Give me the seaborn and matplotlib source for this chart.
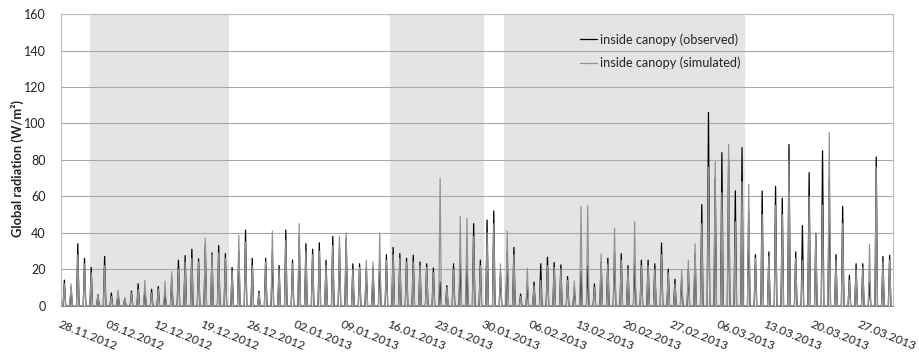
import numpy as np
import pandas as pd
import matplotlib
matplotlib.use("Agg")
import matplotlib.pyplot as plt
import matplotlib.dates as mdates
import seaborn as sns

# ---------------- data ----------------
START_DATE = "2012-11-28"
observed = [14, 10, 34, 26, 21, 6, 27, 7, 7, 4, 8, 12, 9, 9, 10.5, 6, 15, 25, 27.5, 31,
            25.7, 33, 29, 33, 28.6, 21, 30, 41.5, 26, 8, 26, 30, 22, 41.5, 25, 38, 34, 31, 34.5, 25,
            38, 32, 37, 23, 23, 21, 21, 25, 28, 32, 28.6, 26, 27.7, 24, 23, 20.7, 13, 11, 23, 24,
            23, 45, 25, 47, 52, 18, 30, 32, 6.4, 12, 13, 23, 26.6, 23.7, 22.4, 16, 10, 18.7, 22, 12,
            24, 26, 30, 28.5, 22, 25, 25, 25, 23, 34.4, 20, 14.5, 15, 20, 28, 55.5, 106, 70, 84, 80,
            63, 86.7, 52, 28, 63, 29.5, 65.5, 59, 88.5, 29.5, 44, 73, 39.5, 85, 70, 28, 54.5, 16.7, 23, 23,
            13, 81.6, 27, 27.6]
simulated = [12, 12, 28, 23, 18, 6, 22, 5, 8.6, 4.5, 7, 9, 14, 7, 9, 13.5, 18.6, 20, 24, 26,
             24, 37, 28, 29, 26, 19, 38.7, 35, 22, 7, 24, 41, 20, 36, 23, 45, 30, 28, 30, 22,
             33, 38, 40, 20, 21, 25, 24, 40, 25, 28, 26, 24, 24, 22, 21, 18, 70, 10, 20, 49,
             48, 38, 22, 40, 45, 23, 41, 28, 5, 20.5, 11, 14, 22, 21, 20, 14, 13.6, 54.5, 55, 10,
             28.4, 23, 42.5, 25, 20, 46, 22, 22, 20, 28, 18, 12, 20, 25, 34, 45, 76, 79, 62, 88.5,
             46, 68, 66.7, 26, 50, 27, 55, 50, 80, 26, 25, 60, 40, 55, 95, 25, 45, 14, 20, 21,
             33.6, 76, 24, 25]
series_labels = ["inside canopy (observed)", "inside canopy (simulated)"]
shade_starts = ["2012-12-02 08:00", "2013-01-16", "2013-02-02"]
shade_ends = ["2012-12-23", "2013-01-30", "2013-03-10"]
tick_start, tick_end = "2012-11-28", "2013-03-27"
x_end = "2013-04-01"
y_label = "Global radiation (W/m²)"

# daily cycle: zero at sunrise/sunset, peak at noon
SUNRISE_H, NOON_H, SUNSET_H = 7.5, 12, 16.5

days = pd.date_range(START_DATE, periods=len(observed), freq="D")
rows = []
for lab, vals in zip(series_labels, [observed, simulated]):
    for d, v in zip(days, vals):
        rows.append((d + pd.Timedelta(hours=SUNRISE_H), 0.0, lab))
        rows.append((d + pd.Timedelta(hours=NOON_H), v, lab))
        rows.append((d + pd.Timedelta(hours=SUNSET_H), 0.0, lab))
df = pd.DataFrame(rows, columns=["time", "value", "series"])

# ---------------- plot ----------------
sns.set_style("white")
plt.rcParams["font.family"] = ["Lato", "DejaVu Sans"]

fig = plt.figure(figsize=(9.19, 3.53), dpi=100)
ax = fig.add_axes([0.0664, 0.134, 0.9717 - 0.0664, 0.960 - 0.134])

for s, e in zip(shade_starts, shade_ends):
    ax.axvspan(mdates.date2num(pd.Timestamp(s)), mdates.date2num(pd.Timestamp(e)),
               color="#e4e4e4", lw=0, zorder=0)

sns.lineplot(data=df, x="time", y="value", hue="series", hue_order=series_labels,
             palette={series_labels[0]: "#000000", series_labels[1]: "#949494"},
             estimator=None, sort=False, linewidth=0.9, ax=ax, zorder=3)

ax.set_ylim(0, 160)
ax.set_yticks(np.arange(0, 161, 20))
ax.set_xlim(mdates.date2num(pd.Timestamp(START_DATE)), mdates.date2num(pd.Timestamp(x_end)))
ticks = pd.date_range(tick_start, tick_end, freq="7D")
ax.set_xticks(mdates.date2num(ticks))
ax.xaxis.set_major_formatter(mdates.DateFormatter("%d.%m.%Y"))

ax.yaxis.grid(True, color="#a8a8a8", lw=0.8, zorder=1)
ax.xaxis.grid(False)
ax.set_axisbelow(True)
for sp in ax.spines.values():
    sp.set_color("#bdbdbd")
    sp.set_linewidth(0.8)
ax.spines["bottom"].set_color("#8a8a8a")

ax.tick_params(axis="y", length=0, pad=11, labelsize=9, labelcolor="#222222")
ax.tick_params(axis="x", length=4, color="#8a8a8a", pad=5, labelsize=8.7, labelcolor="#222222")
for lbl in ax.get_xticklabels():
    lbl.set_rotation(-22)
    lbl.set_ha("left")
    lbl.set_va("top")
    lbl.set_rotation_mode("anchor")

ax.set_xlabel("")
ax.set_ylabel(y_label, fontsize=9.3, fontweight="bold", color="#222222")
ax.yaxis.set_label_coords(-0.045, 0.469)

handles, labels = ax.get_legend_handles_labels()
ax.legend(handles, labels, loc="upper left", bbox_to_anchor=(0.624, 0.935),
          frameon=False, fontsize=9.2, handlelength=1.3, handletextpad=0.25,
          labelspacing=0.85, borderpad=0, borderaxespad=0)

fig.savefig("out.png", dpi=100)
